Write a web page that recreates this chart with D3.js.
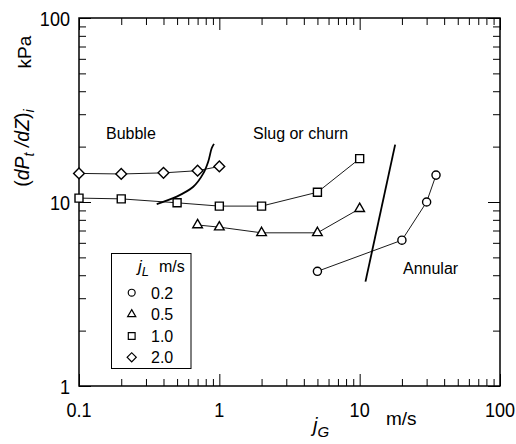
<!DOCTYPE html>
<html>
<head>
<meta charset="utf-8">
<script src="https://cdn.jsdelivr.net/npm/d3@7"></script>
<style>
  html, body { margin: 0; padding: 0; background: #fff; }
  svg { display: block; }
  text { font-family: "Liberation Sans", Arial, sans-serif; fill: #000; }
</style>
</head>
<body>
<svg id="chart" width="516" height="444"></svg>
<script>
// ---- data ----
const jG_02 = [5, 20, 30, 35];
const dp_02 = [4.2, 6.2, 10.0, 14.0];
const jG_05 = [0.7, 1, 2, 5, 10];
const dp_05 = [7.5, 7.3, 6.8, 6.8, 9.2];
const jG_10 = [0.1, 0.2, 0.5, 1, 2, 5, 10];
const dp_10 = [10.5, 10.4, 9.9, 9.5, 9.5, 11.3, 17.2];
const jG_20 = [0.1, 0.2, 0.4, 0.7, 1.0];
const dp_20 = [14.3, 14.2, 14.4, 14.8, 15.6];

// flow-regime transition lines
const bubbleSlugX = [0.358, 0.497, 0.652, 0.769, 0.834, 0.882, 0.916];
const bubbleSlugY = [9.75, 10.7, 12.1, 14.3, 16.6, 19.6, 20.7];
const slugAnnX = [11.0, 17.9];
const slugAnnY = [3.69, 20.5];

const legendLabels = ["0.2", "0.5", "1.0", "2.0"];
const xTickLabels = ["0.1", "1", "10", "100"];
const yTickLabels = ["1", "10", "100"];
const xMajor = [0.1, 1, 10, 100];
const yMajor = [1, 10, 100];

// ---- layout ----
const svg = d3.select("#chart");
const L = 79, R = 500, T = 18, B = 386;
const x = d3.scaleLog().domain([0.1, 100]).range([L, R]);
const y = d3.scaleLog().domain([1, 100]).range([B, T]);

const minorX = [];
[0.1, 1, 10].forEach(d => { for (let k = 2; k <= 9; k++) minorX.push(d * k); });
const minorY = [];
[1, 10].forEach(d => { for (let k = 2; k <= 9; k++) minorY.push(d * k); });

const MAJ = 12, MIN = 7;
function axisGroup(axisFn, scale, tx, ty, vals, size) {
  const g = svg.append("g").attr("transform", `translate(${tx},${ty})`)
    .call(axisFn(scale).tickValues(vals).tickSize(size).tickFormat(""));
  g.select(".domain").remove();
  g.selectAll("line").attr("stroke", "#000").attr("stroke-width", 1);
  return g;
}
axisGroup(d3.axisBottom, x, 0, B, minorX, -MIN);
axisGroup(d3.axisBottom, x, 0, B, xMajor, -MAJ);
axisGroup(d3.axisTop, x, 0, T, minorX, -MIN);
axisGroup(d3.axisTop, x, 0, T, xMajor, -MAJ);
axisGroup(d3.axisLeft, y, L, 0, minorY, -MIN);
axisGroup(d3.axisLeft, y, L, 0, yMajor, -MAJ);
axisGroup(d3.axisRight, y, R, 0, minorY, -MIN);
axisGroup(d3.axisRight, y, R, 0, yMajor, -MAJ);

// frame
svg.append("rect").attr("x", L).attr("y", T).attr("width", R - L).attr("height", B - T)
  .attr("fill", "none").attr("stroke", "#000").attr("stroke-width", 1.5);

// tick labels (slightly condensed like the original)
svg.selectAll(".xt").data(xMajor).enter().append("text")
  .attr("transform", d => `translate(${x(d)},417) scale(0.86,1)`)
  .attr("text-anchor", "middle")
  .attr("font-size", 21).text((d, i) => xTickLabels[i]);
svg.selectAll(".yt").data(yMajor).enter().append("text")
  .attr("transform", d => `translate(70,${y(d) + 7.5}) scale(0.86,1)`)
  .attr("text-anchor", "end")
  .attr("font-size", 21).text((d, i) => yTickLabels[i]);

// axis titles
const yl = svg.append("text")
  .attr("transform", "translate(29,148) rotate(-90)")
  .attr("text-anchor", "middle").attr("font-size", 19.5);
yl.append("tspan").text("(");
yl.append("tspan").attr("font-style", "italic").text("dP");
yl.append("tspan").attr("font-style", "italic").attr("font-size", 14).attr("dy", 5).text("t");
yl.append("tspan").attr("font-style", "italic").attr("dy", -5).text(" /dZ");
yl.append("tspan").text(")");
yl.append("tspan").attr("font-style", "italic").attr("font-size", 14).attr("dy", 5).text("i");

svg.append("text")
  .attr("transform", "translate(31,52) rotate(-90)")
  .attr("text-anchor", "middle").attr("font-size", 19).text("kPa");

const xl = svg.append("text").attr("x", 313).attr("y", 432).attr("font-size", 20);
xl.append("tspan").attr("font-style", "italic").text("j");
xl.append("tspan").attr("font-style", "italic").attr("font-size", 15).attr("dy", 5).text("G");
svg.append("text").attr("x", 386).attr("y", 425).attr("font-size", 19).text("m/s");

// regime labels
svg.append("text").attr("x", 106).attr("y", 139).attr("font-size", 16).text("Bubble");
svg.append("text").attr("x", 253).attr("y", 139).attr("font-size", 16).text("Slug or churn");
svg.append("text").attr("x", 403).attr("y", 274).attr("font-size", 16).text("Annular");

// transition lines
const curve = d3.line().x(d => x(d[0])).y(d => y(d[1])).curve(d3.curveCatmullRom);
svg.append("path").datum(d3.zip(bubbleSlugX, bubbleSlugY)).attr("d", curve)
  .attr("fill", "none").attr("stroke", "#000").attr("stroke-width", 1.8);
svg.append("path").datum(d3.zip(slugAnnX, slugAnnY)).attr("d", d3.line().x(d => x(d[0])).y(d => y(d[1])))
  .attr("fill", "none").attr("stroke", "#000").attr("stroke-width", 1.8);

// series
const series = [
  { xs: jG_02, ys: dp_02, sym: "circle" },
  { xs: jG_05, ys: dp_05, sym: "triangle" },
  { xs: jG_10, ys: dp_10, sym: "square" },
  { xs: jG_20, ys: dp_20, sym: "diamond" }
];
function symPath(s) {
  if (s === "circle") return d3.symbol(d3.symbolCircle, 52)();
  if (s === "triangle") return d3.symbol(d3.symbolTriangle, 40)();
  if (s === "square") return d3.symbol(d3.symbolSquare, 64)();
  return d3.symbol(d3.symbolSquare, 58)();
}
function symTransform(s, px, py) {
  return s === "diamond" ? `translate(${px},${py}) rotate(45)` : `translate(${px},${py})`;
}
const thin = d3.line().x(d => x(d[0])).y(d => y(d[1]));
series.forEach(s => {
  const pts = d3.zip(s.xs, s.ys);
  svg.append("path").datum(pts).attr("d", thin)
    .attr("fill", "none").attr("stroke", "#000").attr("stroke-width", 0.9);
  svg.append("g").selectAll("path").data(pts).enter().append("path")
    .attr("d", symPath(s.sym))
    .attr("transform", d => symTransform(s.sym, x(d[0]), y(d[1])))
    .attr("fill", "#fff").attr("stroke", "#000").attr("stroke-width", 1.4);
});

// legend
const lg = svg.append("g");
lg.append("rect").attr("x", 111.5).attr("y", 253.5).attr("width", 79.5).attr("height", 115)
  .attr("fill", "#fff").attr("stroke", "#000").attr("stroke-width", 1);
const lt = lg.append("text").attr("x", 138).attr("y", 272).attr("font-size", 17);
lt.append("tspan").attr("font-style", "italic").text("j");
lt.append("tspan").attr("font-style", "italic").attr("font-size", 13).attr("dy", 4).text("L");
lg.append("text").attr("x", 159).attr("y", 272).attr("font-size", 16).text("m/s");
const rowY = [292.7, 314.3, 336, 357.3];
series.forEach((s, i) => {
  lg.append("path").attr("d", symPath(s.sym))
    .attr("transform", symTransform(s.sym, 131.7, rowY[i]) + " scale(0.85)")
    .attr("fill", "#fff").attr("stroke", "#000").attr("stroke-width", 1.4);
  lg.append("text").attr("x", 151).attr("y", rowY[i] + 6).attr("font-size", 16).text(legendLabels[i]);
});
</script>
</body>
</html>
